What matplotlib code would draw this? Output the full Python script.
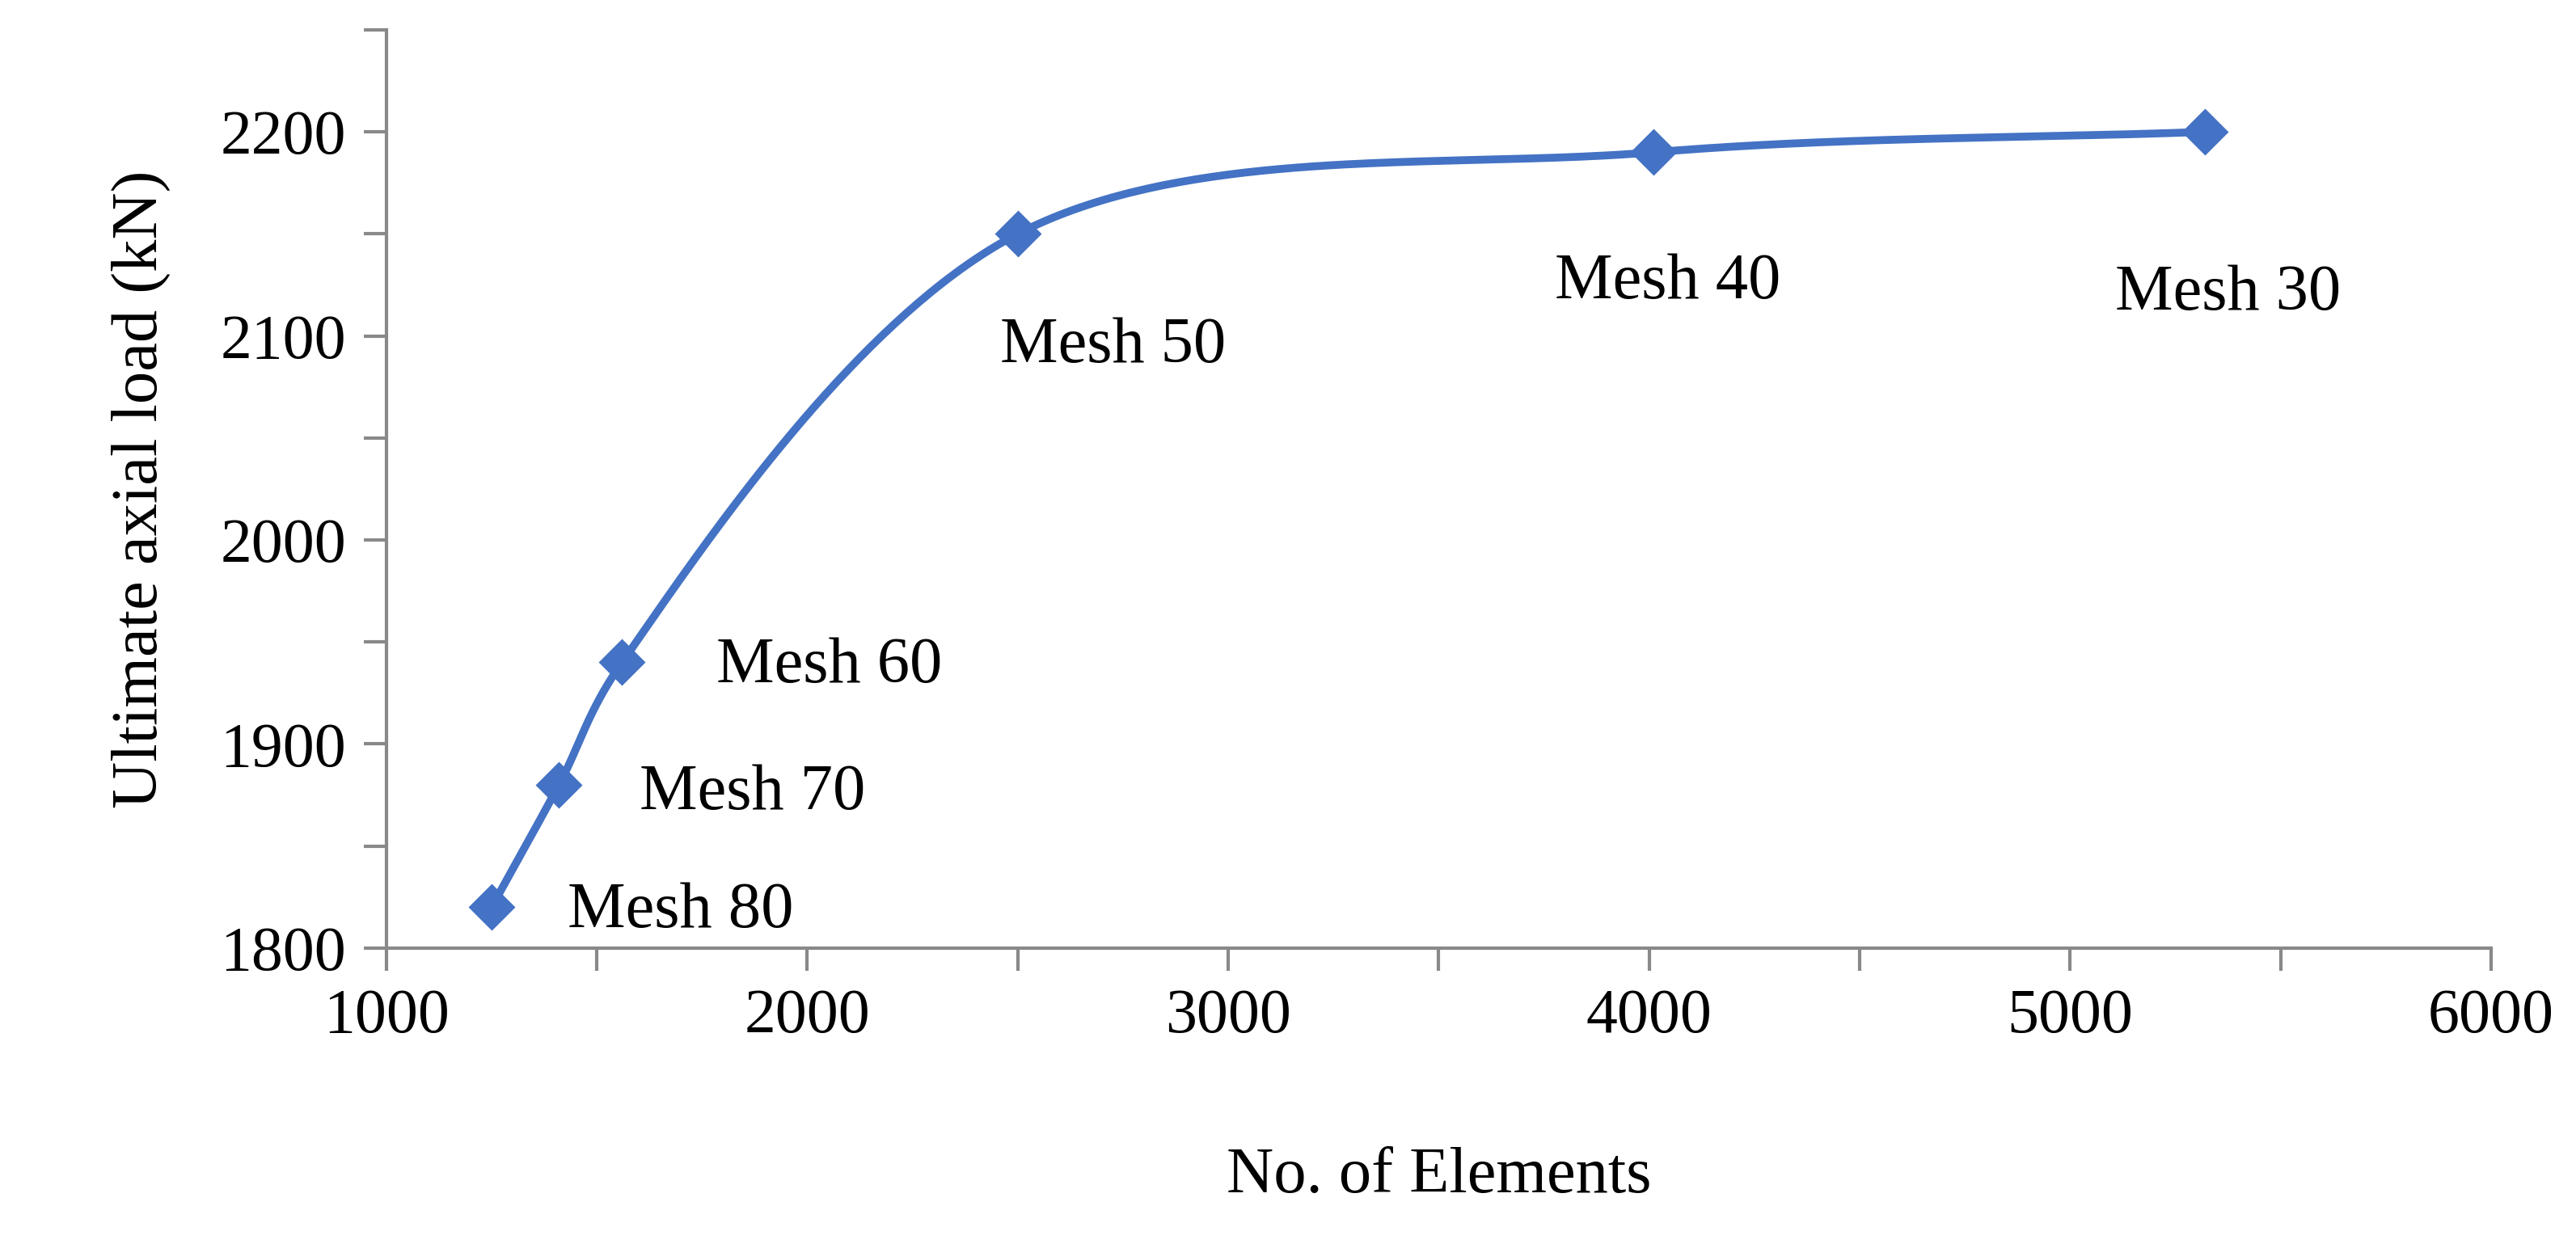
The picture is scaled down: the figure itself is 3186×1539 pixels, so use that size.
import numpy as np
import matplotlib.pyplot as plt
from matplotlib.ticker import MultipleLocator

elements = [1250, 1410, 1560, 2500, 4010, 5320]
load = [1820, 1880, 1940, 2150, 2190, 2200]
names = ["Mesh 80", "Mesh 70", "Mesh 60", "Mesh 50", "Mesh 40", "Mesh 30"]
# label offsets in points (dx, dy)
offsets = [(34, -2), (36, -4), (42, -2), (-8, -50), (-44, -58), (-40, -72)]


def smooth(x, y, n=80):
    # centripetal Catmull-Rom in axis-normalised coordinates
    x = np.asarray(x, float)
    y = np.asarray(y, float)
    nx = (x - 1000) / 5000 * 2.3
    ny = (y - 1800) / 450
    P = np.column_stack([nx, ny])
    P = np.vstack([2 * P[0] - P[1], P, 2 * P[-1] - P[-2]])
    out = []
    for i in range(1, len(P) - 2):
        p0, p1, p2, p3 = P[i - 1], P[i], P[i + 1], P[i + 2]
        t0 = 0.0
        t1 = t0 + np.linalg.norm(p1 - p0) ** 0.5
        t2 = t1 + np.linalg.norm(p2 - p1) ** 0.5
        t3 = t2 + np.linalg.norm(p3 - p2) ** 0.5
        t = np.linspace(t1, t2, n)[:, None]
        a1 = (t1 - t) / (t1 - t0) * p0 + (t - t0) / (t1 - t0) * p1
        a2 = (t2 - t) / (t2 - t1) * p1 + (t - t1) / (t2 - t1) * p2
        a3 = (t3 - t) / (t3 - t2) * p2 + (t - t2) / (t3 - t2) * p3
        b1 = (t2 - t) / (t2 - t0) * a1 + (t - t0) / (t2 - t0) * a2
        b2 = (t3 - t) / (t3 - t1) * a2 + (t - t1) / (t3 - t1) * a3
        out.append((t2 - t) / (t2 - t1) * b1 + (t - t1) / (t2 - t1) * b2)
    C = np.vstack(out)
    return C[:, 0] / 2.3 * 5000 + 1000, C[:, 1] * 450 + 1800


plt.rcParams['font.family'] = ['Liberation Serif', 'DejaVu Serif']
fig = plt.figure(figsize=(15.93, 7.695), dpi=200)
ax = fig.add_axes([0.150, 0.238, 0.817, 0.738])

sx, sy = smooth(elements, load)
ax.plot(sx, sy, color='#4472C4', lw=3.5, zorder=2)
ax.plot(elements, load, 'D', color='#4472C4', markersize=14, zorder=3)

for x, y, name, (dx, dy) in zip(elements, load, names, offsets):
    ax.annotate(name, (x, y), xytext=(dx, dy), textcoords='offset points',
                fontsize=29, va='center', ha='left')

ax.set_xlim(1000, 6000)
ax.set_ylim(1800, 2250)
ax.xaxis.set_major_locator(MultipleLocator(1000))
ax.xaxis.set_minor_locator(MultipleLocator(500))
ax.yaxis.set_major_locator(MultipleLocator(100))
ax.yaxis.set_minor_locator(MultipleLocator(50))
for s in ['top', 'right']:
    ax.spines[s].set_visible(False)
for s in ['left', 'bottom']:
    ax.spines[s].set_color('#898989')
    ax.spines[s].set_linewidth(1.5)
ax.tick_params(which='both', direction='out', color='#898989', width=1.5)
ax.tick_params(which='major', length=10, labelsize=28, pad=8)
ax.tick_params(which='minor', length=10)

ax.set_xlabel("No. of Elements", fontsize=29, labelpad=45)
ax.set_ylabel("Ultimate axial load (kN)", fontsize=29, labelpad=22)

fig.savefig("out.png", dpi=200)
